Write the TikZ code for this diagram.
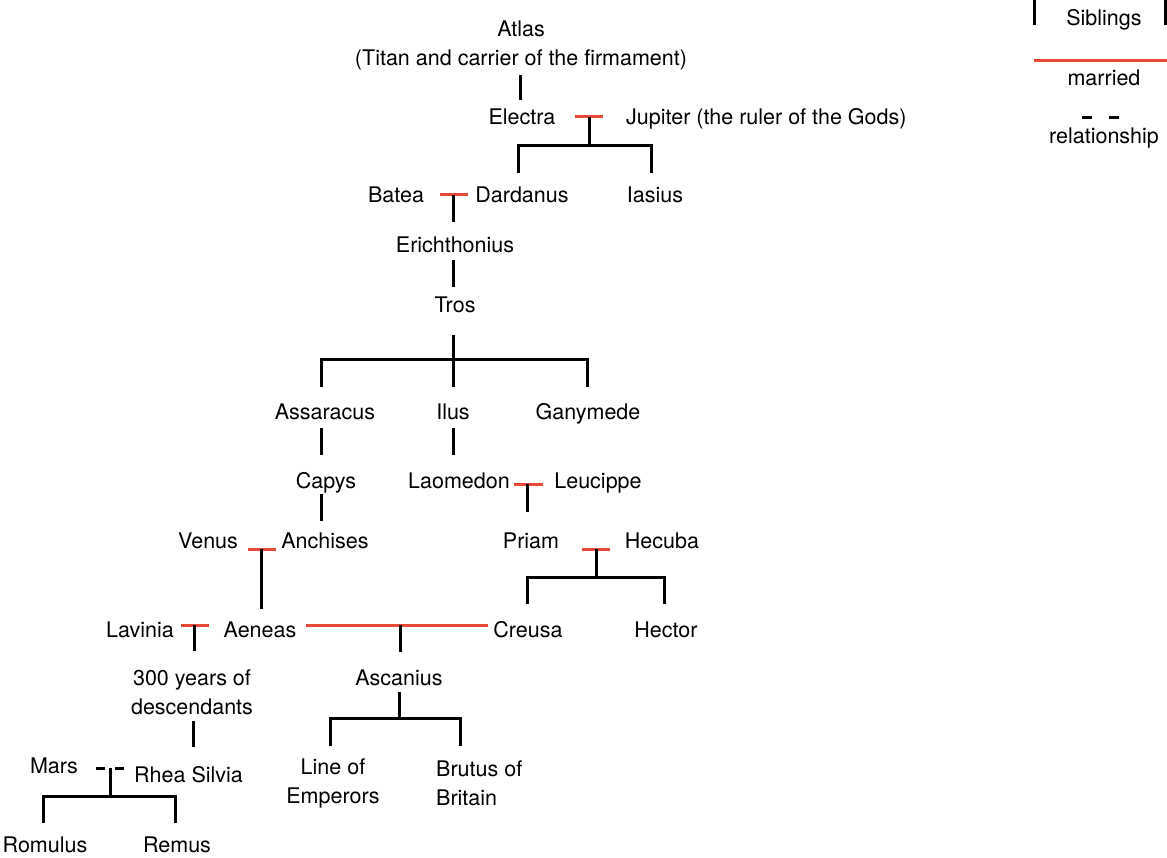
\documentclass[tikz,border=0pt]{standalone}
\usepackage{fontspec}
\setmainfont{TeX Gyre Heros}
\definecolor{marr}{RGB}{233,74,56}
\begin{document}
\begin{tikzpicture}[x=1pt,y=-1pt,
  txt/.style={inner sep=0pt,font=\fontsize{21.5}{29}\selectfont,text height=15pt,text depth=4.5pt,yshift=-2pt},
  mtxt/.style={inner sep=0pt,font=\fontsize{21.5}{29}\selectfont,align=center,yshift=-2pt},
  kin/.style={line width=3pt,black},
  wed/.style={line width=3pt,marr},
  rel/.style={line width=3pt,black,dash pattern=on 9pt off 10pt}]
\useasboundingbox (0,0) rectangle (1167,858);
% people
\node[mtxt] (atlas) at (521,43) {Atlas\\(Titan and carrier of the firmament)};
\node[txt] (electra) at (522,117) {Electra};
\node[txt,anchor=west] (jupiter) at (626,117) {Jupiter (the ruler of the Gods)};
\node[txt] (batea) at (396,195) {Batea};
\node[txt] (dardanus) at (522,195) {Dardanus};
\node[txt] (iasius) at (655,195) {Iasius};
\node[txt] (erich) at (455,245) {Erichthonius};
\node[txt] (tros) at (455,305) {Tros};
\node[txt] (assar) at (325,412) {Assaracus};
\node[txt] (ilus) at (453,412) {Ilus};
\node[txt] (gany) at (588,412) {Ganymede};
\node[txt] (capys) at (326,481) {Capys};
\node[txt] (laomedon) at (459,481) {Laomedon};
\node[txt] (leucippe) at (598,481) {Leucippe};
\node[txt] (venus) at (208,541) {Venus};
\node[txt] (anchises) at (325,541) {Anchises};
\node[txt] (priam) at (531,541) {Priam};
\node[txt] (hecuba) at (662,541) {Hecuba};
\node[txt] (lavinia) at (140,630) {Lavinia};
\node[txt] (aeneas) at (260,630) {Aeneas};
\node[txt] (creusa) at (528,630) {Creusa};
\node[txt] (hector) at (666,630) {Hector};
\node[mtxt] (desc) at (192,690) {300 years of\\descendants};
\node[txt] (ascanius) at (399,678) {Ascanius};
\node[txt] (mars) at (54,766) {Mars};
\node[txt,anchor=west] (rhea) at (134,775) {Rhea Silvia};
\node[mtxt] (lineemp) at (333,781) {Line of\\Emperors};
\node[mtxt,align=left,anchor=west] (brutus) at (436,781) {Brutus of\\Britain};
\node[txt] (romulus) at (45,845) {Romulus};
\node[txt] (remus) at (177,845) {Remus};
% legend
\node[txt] (lsib) at (1104,18) {Siblings};
\node[txt] (lmar) at (1104,78) {married};
\node[txt] (lrel) at (1104,136) {relationship};
% junction coordinates
\coordinate (a1) at (520,75);  \coordinate (a2) at (520,100);
\coordinate (e1) at (575,117); \coordinate (e2) at (603,117); \coordinate (em) at (589,117);
\coordinate (eb) at (589,146); \coordinate (edL) at (518,173); \coordinate (edR) at (651,173);
\coordinate (b1) at (440,195); \coordinate (b2) at (468,195); \coordinate (bm) at (453,195); \coordinate (bb) at (453,222);
\coordinate (t1) at (453,260); \coordinate (t2) at (453,287);
\coordinate (tr1) at (453,335); \coordinate (trb) at (453,360);
\coordinate (trL) at (321,387); \coordinate (trM) at (453,387); \coordinate (trR) at (587,387);
\coordinate (as1) at (321,428); \coordinate (as2) at (321,455);
\coordinate (il1) at (453,428); \coordinate (il2) at (453,455);
\coordinate (l1) at (514,484); \coordinate (l2) at (543,484); \coordinate (lm) at (527,484); \coordinate (lb) at (527,512);
\coordinate (c1) at (321,494); \coordinate (c2) at (321,521);
\coordinate (v1) at (248,549); \coordinate (v2) at (276,549); \coordinate (vm) at (261,549); \coordinate (vb) at (261,609);
\coordinate (p1) at (582,549); \coordinate (p2) at (610,549); \coordinate (pm) at (596,549); \coordinate (pb) at (596,577);
\coordinate (pL) at (527,604); \coordinate (pR) at (664,604);
\coordinate (lv1) at (181,625); \coordinate (lv2) at (209,625); \coordinate (lvm) at (194,625); \coordinate (lvb) at (194,651);
\coordinate (cr1) at (306,625); \coordinate (cr2) at (488,625); \coordinate (crm) at (400,625); \coordinate (crb) at (400,652);
\coordinate (d1) at (193,721); \coordinate (d2) at (193,747);
\coordinate (as3) at (399,692); \coordinate (asb) at (399,718); \coordinate (asL) at (330,746); \coordinate (asR) at (460,746);
\coordinate (m1) at (96,768); \coordinate (m2) at (124,768); \coordinate (mm) at (110,768); \coordinate (mb) at (110,796);
\coordinate (mL) at (43,823); \coordinate (mR) at (175,823);
\coordinate (g1) at (1034,0); \coordinate (g2) at (1034,25); \coordinate (g3) at (1165,0); \coordinate (g4) at (1165,25);
\coordinate (g5) at (1034,61); \coordinate (g6) at (1167,61);
\coordinate (g7) at (1082,118); \coordinate (g8) at (1119,118);
% connectors
\draw[kin] (a1) -- (a2);
\draw[wed] (e1) -- (e2);
\draw[kin] (em) -- (eb);
\draw[kin] (edL) |- (eb) -| (edR);
\draw[wed] (b1) -- (b2);
\draw[kin] (bm) -- (bb);
\draw[kin] (t1) -- (t2);
\draw[kin] (tr1) -- (trM);
\draw[kin] (trL) |- (trb) -| (trR);
\draw[kin] (as1) -- (as2);
\draw[kin] (il1) -- (il2);
\draw[wed] (l1) -- (l2);
\draw[kin] (lm) -- (lb);
\draw[kin] (c1) -- (c2);
\draw[wed] (v1) -- (v2);
\draw[kin] (vm) -- (vb);
\draw[wed] (p1) -- (p2);
\draw[kin] (pm) -- (pb);
\draw[kin] (pL) |- (pb) -| (pR);
\draw[wed] (lv1) -- (lv2);
\draw[kin] (lvm) -- (lvb);
\draw[wed] (cr1) -- (cr2);
\draw[kin] (crm) -- (crb);
\draw[kin] (d1) -- (d2);
\draw[kin] (as3) -- (asb);
\draw[kin] (asL) |- (asb) -| (asR);
\draw[rel] (m1) -- (m2);
\draw[kin] (mm) -- (mb);
\draw[kin] (mL) |- (mb) -| (mR);
\draw[kin] (g1) -- (g2);
\draw[kin] (g3) -- (g4);
\draw[wed] (g5) -- (g6);
\draw[line width=3pt,black,dash pattern=on 10pt off 17pt] (g7) -- (g8);
\end{tikzpicture}
\end{document}
